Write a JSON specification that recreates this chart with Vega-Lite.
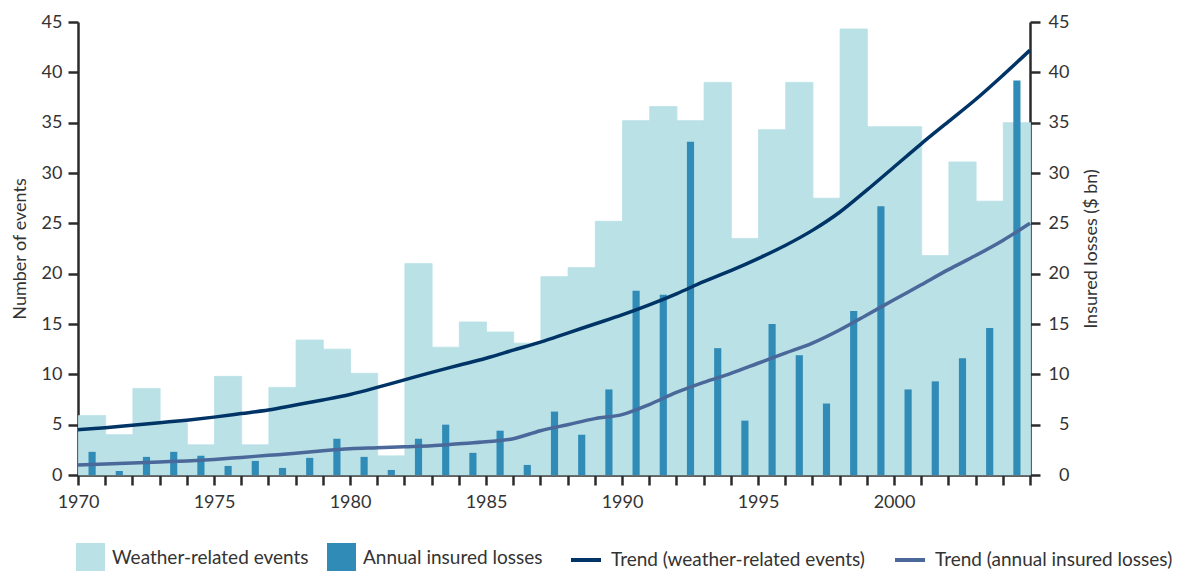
{
  "$schema": "https://vega.github.io/schema/vega-lite/v6.json",
  "width": 952,
  "height": 453,
  "autosize": {"type": "none"},
  "padding": {"left": 78, "top": 22, "right": 162, "bottom": 96},
  "background": "white",
  "config": {
    "font": "Lato",
    "view": {"stroke": null},
    "axis": {
      "domainColor": "#2b2b2b",
      "domainWidth": 2.5,
      "tickColor": "#2b2b2b",
      "tickWidth": 2.5,
      "tickSize": 10,
      "labelColor": "#333333",
      "labelFontSize": 18,
      "titleFontSize": 18,
      "titleFontWeight": "normal",
      "titleColor": "#333333",
      "grid": false
    },
    "legend": {
      "labelFontSize": 19,
      "labelColor": "#333333",
      "labelLimit": 400,
      "padding": 0,
      "titlePadding": 0
    }
  },
  "datasets": {
    "bars": [
      {"year": 1970, "events": 5.9, "losses": 2.3},
      {"year": 1971, "events": 4.0, "losses": 0.4},
      {"year": 1972, "events": 8.6, "losses": 1.8},
      {"year": 1973, "events": 5.2, "losses": 2.3},
      {"year": 1974, "events": 3.0, "losses": 1.9},
      {"year": 1975, "events": 9.8, "losses": 0.9},
      {"year": 1976, "events": 3.0, "losses": 1.4},
      {"year": 1977, "events": 8.7, "losses": 0.7},
      {"year": 1978, "events": 13.4, "losses": 1.7},
      {"year": 1979, "events": 12.5, "losses": 3.6},
      {"year": 1980, "events": 10.1, "losses": 1.8},
      {"year": 1981, "events": 1.9, "losses": 0.5},
      {"year": 1982, "events": 21.0, "losses": 3.6},
      {"year": 1983, "events": 12.7, "losses": 5.0},
      {"year": 1984, "events": 15.2, "losses": 2.2},
      {"year": 1985, "events": 14.2, "losses": 4.4},
      {"year": 1986, "events": 13.1, "losses": 1.0},
      {"year": 1987, "events": 19.7, "losses": 6.3},
      {"year": 1988, "events": 20.6, "losses": 4.0},
      {"year": 1989, "events": 25.2, "losses": 8.5},
      {"year": 1990, "events": 35.2, "losses": 18.3},
      {"year": 1991, "events": 36.6, "losses": 17.9},
      {"year": 1992, "events": 35.2, "losses": 33.1},
      {"year": 1993, "events": 39.0, "losses": 12.6},
      {"year": 1994, "events": 23.5, "losses": 5.4},
      {"year": 1995, "events": 34.3, "losses": 15.0},
      {"year": 1996, "events": 39.0, "losses": 11.9},
      {"year": 1997, "events": 27.5, "losses": 7.1},
      {"year": 1998, "events": 44.3, "losses": 16.3},
      {"year": 1999, "events": 34.6, "losses": 26.7},
      {"year": 2000, "events": 34.6, "losses": 8.5},
      {"year": 2001, "events": 21.8, "losses": 9.3},
      {"year": 2002, "events": 31.1, "losses": 11.6},
      {"year": 2003, "events": 27.2, "losses": 14.6},
      {"year": 2004, "events": 35.0, "losses": 39.2}
    ],
    "trends": [
      {"year": 1970, "trend_events": 4.5, "trend_losses": 1.0},
      {"year": 1971, "trend_events": 4.7, "trend_losses": 1.1},
      {"year": 1972, "trend_events": 4.95, "trend_losses": 1.2},
      {"year": 1973, "trend_events": 5.2, "trend_losses": 1.3},
      {"year": 1974, "trend_events": 5.45, "trend_losses": 1.4},
      {"year": 1975, "trend_events": 5.75, "trend_losses": 1.55},
      {"year": 1976, "trend_events": 6.1, "trend_losses": 1.75},
      {"year": 1977, "trend_events": 6.45, "trend_losses": 1.95},
      {"year": 1978, "trend_events": 6.95, "trend_losses": 2.15},
      {"year": 1979, "trend_events": 7.45, "trend_losses": 2.4},
      {"year": 1980, "trend_events": 8.0, "trend_losses": 2.6},
      {"year": 1981, "trend_events": 8.7, "trend_losses": 2.7},
      {"year": 1982, "trend_events": 9.45, "trend_losses": 2.8},
      {"year": 1983, "trend_events": 10.2, "trend_losses": 2.9},
      {"year": 1984, "trend_events": 10.9, "trend_losses": 3.1},
      {"year": 1985, "trend_events": 11.6, "trend_losses": 3.3},
      {"year": 1986, "trend_events": 12.4, "trend_losses": 3.6},
      {"year": 1987, "trend_events": 13.2, "trend_losses": 4.4},
      {"year": 1988, "trend_events": 14.1, "trend_losses": 5.0},
      {"year": 1989, "trend_events": 15.0, "trend_losses": 5.6},
      {"year": 1990, "trend_events": 15.9, "trend_losses": 6.0},
      {"year": 1991, "trend_events": 16.9, "trend_losses": 7.0},
      {"year": 1992, "trend_events": 18.0, "trend_losses": 8.2},
      {"year": 1993, "trend_events": 19.2, "trend_losses": 9.2},
      {"year": 1994, "trend_events": 20.3, "trend_losses": 10.1},
      {"year": 1995, "trend_events": 21.5, "trend_losses": 11.1},
      {"year": 1996, "trend_events": 22.8, "trend_losses": 12.1},
      {"year": 1997, "trend_events": 24.3, "trend_losses": 13.1},
      {"year": 1998, "trend_events": 26.1, "trend_losses": 14.4},
      {"year": 1999, "trend_events": 28.3, "trend_losses": 15.9},
      {"year": 2000, "trend_events": 30.6, "trend_losses": 17.4},
      {"year": 2001, "trend_events": 32.9, "trend_losses": 18.9},
      {"year": 2002, "trend_events": 35.1, "trend_losses": 20.4},
      {"year": 2003, "trend_events": 37.3, "trend_losses": 21.8},
      {"year": 2004, "trend_events": 39.7, "trend_losses": 23.3},
      {"year": 2005, "trend_events": 42.2, "trend_losses": 25.0}
    ]
  },
  "layer": [
    {
      "data": {"name": "bars"},
      "mark": {"type": "bar", "binSpacing": 0, "stroke": "#b9e1e6", "strokeWidth": 0.8},
      "encoding": {
        "x": {
          "field": "year",
          "type": "quantitative",
          "bin": {"step": 1, "extent": [1970, 2005]},
          "scale": {"domain": [1970, 2005]},
          "title": null,
          "axis": {
            "values": [1970,1971,1972,1973,1974,1975,1976,1977,1978,1979,1980,1981,1982,1983,1984,1985,1986,1987,1988,1989,1990,1991,1992,1993,1994,1995,1996,1997,1998,1999,2000,2001,2002,2003,2004,2005],
            "labelExpr": "datum.value % 5 === 0 && datum.value < 2005 ? datum.value + '' : ''",
            "labelPadding": 8,
            "labelFlush": false,
            "labelOverlap": false
          }
        },
        "y": {
          "field": "events",
          "type": "quantitative",
          "scale": {"domain": [0, 45]},
          "axis": {
            "title": "Number of events",
            "values": [0,5,10,15,20,25,30,35,40,45],
            "labelPadding": 6,
            "titlePadding": 12
          }
        },
        "fill": {
          "datum": "Weather-related events",
          "scale": {
            "domain": ["Weather-related events", "Annual insured losses"],
            "range": ["#b9e1e6", "#318bb7"]
          },
          "legend": {
            "orient": "none",
            "legendX": -2,
            "legendY": 521,
            "direction": "horizontal",
            "title": null,
            "symbolType": "square",
            "symbolSize": 841,
            "symbolStrokeWidth": 0,
            "labelOffset": 7,
            "columnPadding": 18
          }
        }
      }
    },
    {
      "data": {"name": "bars"},
      "mark": {"type": "bar", "width": {"band": 0.3}},
      "encoding": {
        "x": {
          "field": "year",
          "type": "quantitative",
          "bin": {"step": 1, "extent": [1970, 2005]},
          "scale": {"domain": [1970, 2005]},
          "title": null
        },
        "y": {
          "field": "losses",
          "type": "quantitative",
          "scale": {"domain": [0, 45]},
          "axis": {
            "orient": "right",
            "title": "Insured losses ($ bn)",
            "titleAngle": 270,
            "titleBaseline": "top",
            "values": [0,5,10,15,20,25,30,35,40,45],
            "labelAlign": "right",
            "labelPadding": 29,
            "titlePadding": 13
          }
        },
        "fill": {"datum": "Annual insured losses"}
      }
    },
    {
      "data": {"name": "trends"},
      "mark": {"type": "line", "strokeWidth": 3.5, "interpolate": "monotone"},
      "encoding": {
        "x": {"field": "year", "type": "quantitative", "scale": {"domain": [1970, 2005]}, "title": null},
        "y": {"field": "trend_events", "type": "quantitative", "scale": {"domain": [0, 45]}, "axis": null},
        "stroke": {
          "datum": "Trend (weather-related events)",
          "scale": {
            "domain": ["Trend (weather-related events)", "Trend (annual insured losses)"],
            "range": ["#003466", "#4a6899"]
          },
          "legend": {
            "orient": "none",
            "legendX": 491,
            "legendY": 521,
            "direction": "horizontal",
            "title": null,
            "symbolType": "stroke",
            "symbolSize": 900,
            "symbolStrokeWidth": 4,
            "labelOffset": 8,
            "columnPadding": 22
          }
        }
      }
    },
    {
      "data": {"name": "trends"},
      "mark": {"type": "line", "strokeWidth": 3.5, "interpolate": "monotone"},
      "encoding": {
        "x": {"field": "year", "type": "quantitative", "scale": {"domain": [1970, 2005]}, "title": null},
        "y": {"field": "trend_losses", "type": "quantitative", "scale": {"domain": [0, 45]}, "axis": null},
        "stroke": {"datum": "Trend (annual insured losses)"}
      }
    }
  ],
  "resolve": {"scale": {"y": "independent"}}
}
